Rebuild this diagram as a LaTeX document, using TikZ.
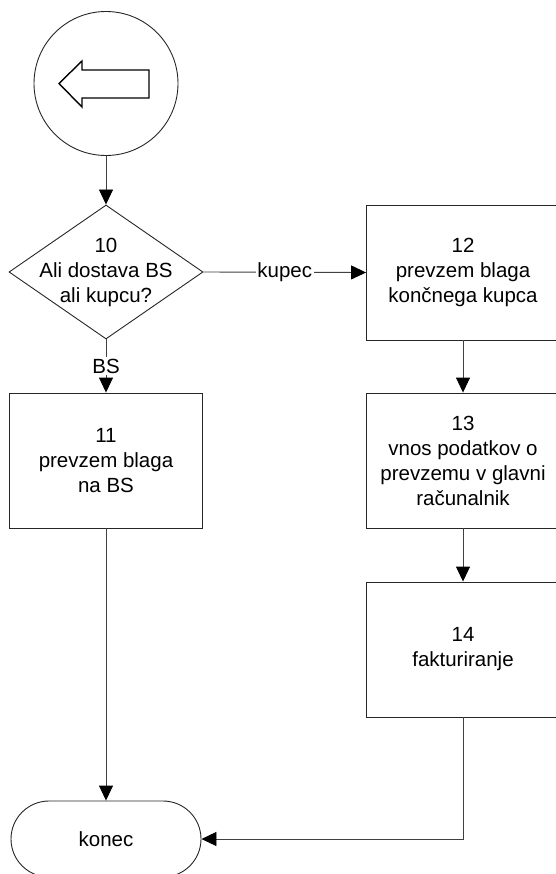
\documentclass[tikz,border=0pt]{standalone}
\usepackage{fontspec}
\setmainfont{Liberation Sans}
\usetikzlibrary{shapes.geometric,shapes.misc,arrows.meta}
\begin{document}
\begin{tikzpicture}[x=1pt, y=-1pt,
  font=\fontsize{20.5}{25}\selectfont,
  every node/.style={line width=0.9pt, draw=black!85},
  stepbox/.style={draw, rectangle, minimum width=193, minimum height=135, align=center, inner sep=0},
  conn/.style={line width=0.9pt, black!75},
  arr/.style={conn, -{Triangle[length=15pt,width=14pt,fill=black,color=black]}},
  lbl/.style={draw=none, fill=white, text=black, inner sep=1.5pt}]
  \useasboundingbox (0,0) rectangle (555,874);

  % start: off-page connector
  \node[draw, circle, minimum size=144, inner sep=0] (start) at (106,83.5) {};
  \draw[line width=1.4pt, line join=miter] (59,83.5) -- (82,61) -- (82,70) -- (149,70)
    -- (149,98) -- (82,98) -- (82,107) -- cycle;

  % decision 10
  \node[draw, diamond, minimum width=194, minimum height=134, inner sep=0] (d10) at (106,272) {};
  \node[draw=none, align=center] at (d10) {10\\Ali dostava BS\\ali kupcu?};

  % process boxes
  \node[stepbox] (b12) at (463,272.5) {12\\prevzem blaga\\končnega kupca};
  \node[stepbox] (b11) at (106,460.5) {11\\prevzem blaga\\na BS};
  \node[stepbox] (b13) at (463,460.5) {13\\vnos podatkov o\\prevzemu v glavni\\računalnik};
  \node[stepbox] (b14) at (463,649.5) {14\\fakturiranje};

  % end
  \node[draw, rounded rectangle, minimum width=190, minimum height=76, inner sep=0] (konec) at (106,839) {konec};

  % connectors
  \draw[arr] (start.south) -- (d10.north);
  \draw[arr] (d10.east) -- node[lbl] {kupec} (b12.west);
  \draw[arr] (d10.south) -- node[lbl] {BS} (b11.north);
  \draw[arr] (b12.south) -- (b13.north);
  \draw[arr] (b13.south) -- (b14.north);
  \draw[arr] (b11.south) -- (konec.north);
  \draw[arr] (b14.south) |- (konec.east);
\end{tikzpicture}
\end{document}
